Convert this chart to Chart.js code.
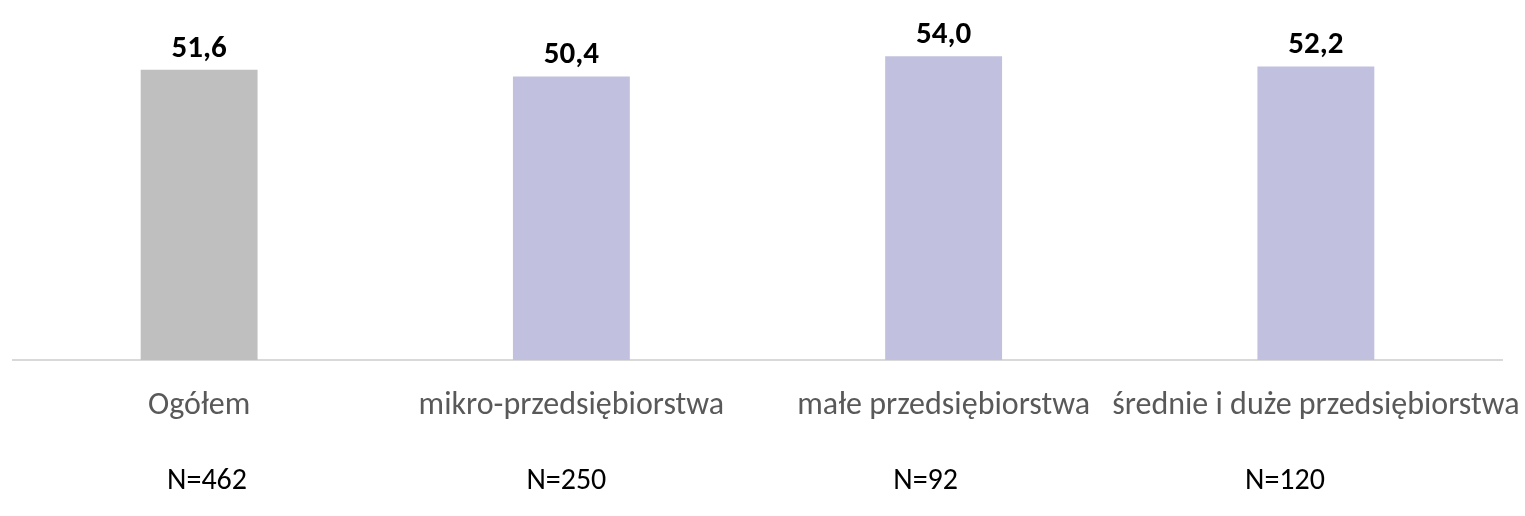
<!DOCTYPE html>
<html>
<head>
<meta charset="utf-8">
<script src="https://cdn.jsdelivr.net/npm/chart.js@4"></script>
<style>
  html, body { margin: 0; padding: 0; background: #fff; }
  #wrap { width: 1525px; height: 516px; }
</style>
</head>
<body>
<div id="wrap"><canvas id="chart"></canvas></div>
<script>
const categories = ['Ogółem', 'mikro-przedsiębiorstwa', 'małe przedsiębiorstwa', 'średnie i duże przedsiębiorstwa'];
const sampleSizes = ['N=462', 'N=250', 'N=92', 'N=120'];
const values = [51.6, 50.4, 54.0, 52.2];
const barColors = ['#bfbfbf', '#c1c0df', '#c1c0df', '#c1c0df'];

const FONT = 'Calibri, Carlito, Lato, "Open Sans", sans-serif';

// value labels above bars, Polish decimal comma
const valueLabels = {
    id: 'valueLabels',
    afterDatasetsDraw(chart) {
        const ctx = chart.ctx;
        const meta = chart.getDatasetMeta(0);
        ctx.save();
        ctx.font = 'bold 31px ' + FONT;
        ctx.fillStyle = '#000';
        ctx.textAlign = 'center';
        ctx.textBaseline = 'middle';
        meta.data.forEach((bar, i) => {
            ctx.fillText(values[i].toFixed(1).replace('.', ','), bar.x, bar.y - 21);
        });
        ctx.restore();
    }
};

const chart = new Chart(document.getElementById('chart'), {
    type: 'bar',
    data: {
        labels: categories,
        datasets: [{
            data: values,
            backgroundColor: barColors,
            categoryPercentage: 1,
            barPercentage: 0.314
        }]
    },
    options: {
        responsive: true,
        maintainAspectRatio: false,
        animation: false,
        layout: { padding: { left: 13, right: 23, top: 0, bottom: 0 } },
        plugins: { legend: { display: false }, tooltip: { enabled: false } },
        scales: {
            y: { display: false, min: 0, max: 64 },
            x: {
                grid: { display: false, drawTicks: false },
                border: { color: '#d9d9d9', width: 2 },
                ticks: {
                    color: '#595959', padding: 27, autoSkip: false,
                    maxRotation: 0, minRotation: 0,
                    font: { size: 32, family: FONT }
                },
                afterFit: s => { s.paddingLeft = 0; s.paddingRight = 0; s.height = 75; }
            },
            // N= row sits on its own evenly spaced positions, not under the bars
            x2: {
                type: 'linear',
                position: 'bottom',
                offset: false,
                min: -0.54,
                max: 3.604,
                grid: { display: false, drawTicks: false },
                border: { display: false },
                afterBuildTicks: s => { s.ticks = sampleSizes.map((_, i) => ({ value: i })); },
                ticks: {
                    color: '#000', padding: 28, autoSkip: false,
                    maxRotation: 0, minRotation: 0,
                    callback: v => sampleSizes[v],
                    font: { size: 30, family: FONT }
                },
                afterFit: s => { s.paddingLeft = 0; s.paddingRight = 0; s.height = 81; }
            }
        }
    },
    plugins: [valueLabels]
});
</script>
</body>
</html>
